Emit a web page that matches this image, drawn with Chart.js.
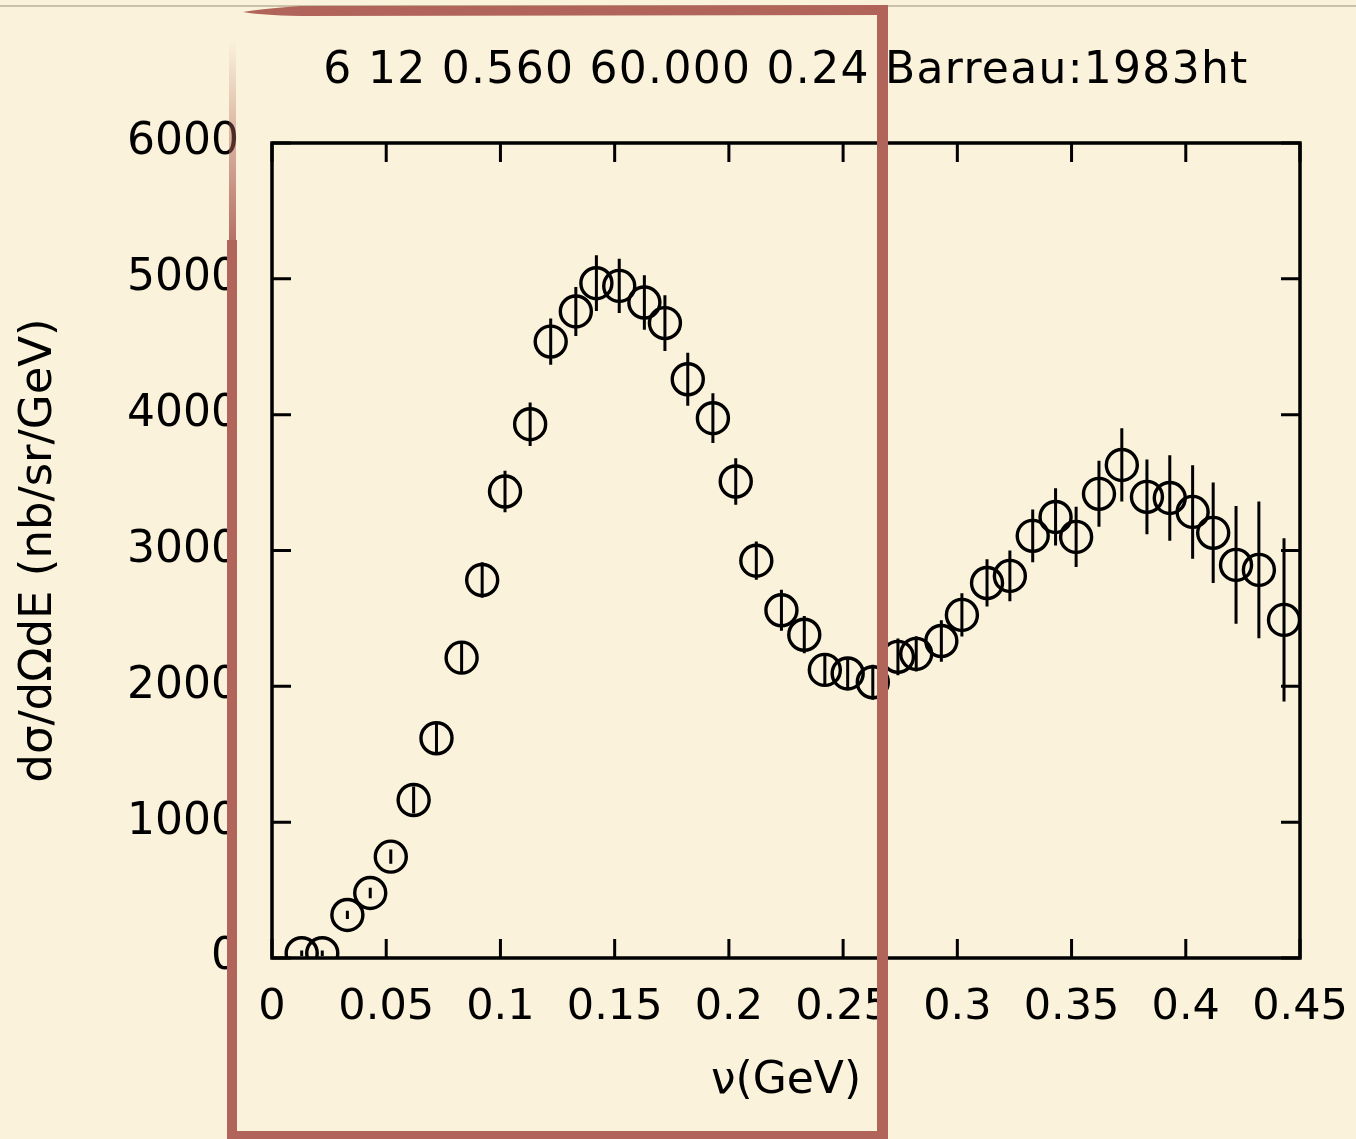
<!DOCTYPE html>
<html>
<head>
<meta charset="utf-8">
<script src="https://cdn.jsdelivr.net/npm/chart.js@4.4.1/dist/chart.umd.min.js"></script>
<style>
  html, body { margin: 0; padding: 0; background: #faf2da; }
  #chart { display: block; }
</style>
</head>
<body>
<canvas id="chart" width="1356" height="1139"></canvas>
<script>
// Data
const titleText = '6 12 0.560 60.000 0.24 Barreau:1983ht';
const xTitle = 'ν(GeV)';
const yTitle = 'dσ/dΩdE (nb/sr/GeV)';

const xTicks = [0, 0.05, 0.1, 0.15, 0.2, 0.25, 0.3, 0.35, 0.4, 0.45];
const xTickLabels = ['0', '0.05', '0.1', '0.15', '0.2', '0.25', '0.3', '0.35', '0.4', '0.45'];
const yTicks = [0, 1000, 2000, 3000, 4000, 5000, 6000];
const yTickLabels = ['0', '1000', '2000', '3000', '4000', '5000', '6000'];

const nu = [0.013, 0.022, 0.033, 0.043, 0.052, 0.062, 0.072, 0.083, 0.092, 0.102,
            0.113, 0.122, 0.133, 0.142, 0.152, 0.163, 0.172, 0.182, 0.193, 0.203,
            0.212, 0.223, 0.233, 0.242, 0.252, 0.263, 0.274, 0.282, 0.293, 0.302,
            0.313, 0.323, 0.333, 0.343, 0.352, 0.362, 0.372, 0.383, 0.393, 0.403,
            0.412, 0.422, 0.432, 0.443];
const sigma = [35, 35, 317, 479, 746, 1163, 1618, 2211, 2783, 3434,
               3930, 4538, 4760, 4968, 4948, 4826, 4674, 4261, 3974, 3508,
               2925, 2560, 2380, 2121, 2095, 2030, 2217, 2239, 2334, 2526,
               2761, 2813, 3108, 3247, 3100, 3417, 3630, 3395, 3387, 3284,
               3130, 2894, 2857, 2489];
const sigmaErr = [20, 20, 30, 39, 52, 100, 104, 113, 130, 153,
                  160, 170, 180, 205, 200, 200, 205, 195, 183, 172,
                  141, 151, 137, 110, 117, 129, 135, 129, 153, 160,
                  174, 187, 194, 211, 222, 243, 270, 275, 315, 344,
                  370, 433, 503, 601];

const FONT = 'DejaVu Sans';

// background, frame with inward ticks, error bars, title, red box
const decorPlugin = {
    id: 'decor',
    beforeDraw(chart) {
        const c = chart.ctx;
        c.save();
        c.fillStyle = '#faf2da';
        c.fillRect(0, 0, chart.width, chart.height);
        // thin grey line along the top
        c.fillStyle = '#c9c1a8';
        c.fillRect(0, 5, chart.width, 2);
        c.restore();
    },
    afterDatasetsDraw(chart) {
        const c = chart.ctx;
        const { left, right, top, bottom } = chart.chartArea;
        const xs = chart.scales.x, ys = chart.scales.y;
        c.save();
        c.strokeStyle = '#000';
        c.lineWidth = 3;
        c.lineCap = 'butt';
        // error bars
        c.beginPath();
        nu.forEach((v, i) => {
            const px = xs.getPixelForValue(v);
            c.moveTo(px, ys.getPixelForValue(sigma[i] - sigmaErr[i]));
            c.lineTo(px, ys.getPixelForValue(sigma[i] + sigmaErr[i]));
        });
        c.stroke();
        // frame
        c.lineWidth = 3.5;
        c.strokeRect(left, top, right - left, bottom - top);
        // inward ticks
        const tl = 19;
        c.lineWidth = 3;
        c.beginPath();
        xTicks.forEach(v => {
            const px = xs.getPixelForValue(v);
            c.moveTo(px, bottom); c.lineTo(px, bottom - tl);
            c.moveTo(px, top); c.lineTo(px, top + tl);
        });
        yTicks.forEach(v => {
            const py = ys.getPixelForValue(v);
            c.moveTo(left, py); c.lineTo(left + tl, py);
            c.moveTo(right, py); c.lineTo(right - tl, py);
        });
        c.stroke();
        c.restore();
    },
    afterDraw(chart) {
        const c = chart.ctx;
        const { left, right } = chart.chartArea;
        c.save();
        // title
        c.fillStyle = '#000';
        c.font = '44px "' + FONT + '"';
        c.textAlign = 'center';
        c.textBaseline = 'middle';
        c.letterSpacing = '1.3px';
        c.fillText(titleText, (left + right) / 2, 72);
        c.letterSpacing = '0px';

        // red box drawn over the chart
        const red = '#b0645a';
        c.fillStyle = red;
        // top edge, tapered at the left end
        c.beginPath();
        c.moveTo(243, 12);
        c.quadraticCurveTo(260, 9, 300, 6);
        c.lineTo(888, 5);
        c.lineTo(888, 15);
        c.lineTo(300, 16);
        c.quadraticCurveTo(260, 15, 243, 12);
        c.closePath();
        c.fill();
        // right edge
        c.fillRect(877, 5, 11, 1134);
        // bottom edge
        c.fillRect(227, 1131, 661, 8);
        // left edge, fading in towards the top
        const g = c.createLinearGradient(0, 40, 0, 260);
        g.addColorStop(0, 'rgba(176,100,90,0)');
        g.addColorStop(1, 'rgba(176,100,90,1)');
        c.fillStyle = g;
        c.fillRect(229, 40, 7, 220);
        c.fillStyle = red;
        c.fillRect(227, 240, 10, 899);
        c.restore();
    }
};

const ctx = document.getElementById('chart').getContext('2d');
const chart = new Chart(ctx, {
    type: 'scatter',
    data: {
        datasets: [{
            data: nu.map((v, i) => ({ x: v, y: sigma[i] })),
            pointStyle: 'circle',
            pointRadius: 15.5,
            pointHoverRadius: 15.5,
            borderWidth: 3.4,
            borderColor: '#000',
            backgroundColor: 'rgba(0,0,0,0)'
        }]
    },
    options: {
        responsive: false,
        animation: false,
        events: [],
        layout: { padding: { left: 0, top: 143, right: 56, bottom: 0 } },
        plugins: {
            legend: { display: false },
            tooltip: { enabled: false },
            title: { display: false }
        },
        scales: {
            x: {
                type: 'linear',
                min: 0,
                max: 0.45,
                afterBuildTicks: s => { s.ticks = xTicks.map(v => ({ value: v })); },
                afterFit: s => { s.height = 181; s.paddingLeft = 0; s.paddingRight = 0; },
                grid: { display: false, drawTicks: false },
                border: { display: false },
                ticks: {
                    color: '#000',
                    font: { family: FONT, size: 43 },
                    padding: 24,
                    maxRotation: 0,
                    autoSkip: false,
                    callback: (v, i) => xTickLabels[i]
                },
                title: {
                    display: true,
                    text: xTitle,
                    color: '#000',
                    font: { family: FONT, size: 44 },
                    padding: { top: 0, bottom: 31 }
                }
            },
            y: {
                type: 'linear',
                min: 0,
                max: 6000,
                afterBuildTicks: s => { s.ticks = yTicks.map(v => ({ value: v })); },
                afterFit: s => { s.width = 272; s.paddingTop = 0; s.paddingBottom = 0; },
                grid: { display: false, drawTicks: false },
                border: { display: false },
                ticks: {
                    color: '#000',
                    font: { family: FONT, size: 44 },
                    padding: 33,
                    autoSkip: false,
                    callback: (v, i) => yTickLabels[i]
                },
                title: {
                    display: true,
                    text: yTitle,
                    color: '#000',
                    font: { family: FONT, size: 45 },
                    padding: { top: 12, bottom: 0 }
                }
            }
        }
    },
    plugins: [decorPlugin]
});
</script>
</body>
</html>
